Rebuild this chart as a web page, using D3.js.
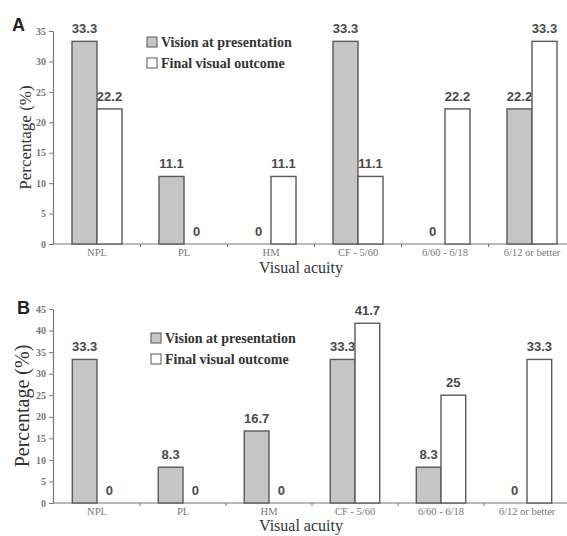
<!DOCTYPE html>
<html>
<head>
<meta charset="utf-8">
<script src="https://cdn.jsdelivr.net/npm/d3@7"></script>
<style>
body{margin:0;background:#fff}
</style>
</head>
<body>
<svg id="graph"></svg>
<script>
var categories = ["NPL","PL","HM","CF - 5/60","6/60 - 6/18","6/12 or better"]
var seriesNames = ["Vision at presentation","Final visual outcome"]

// panel A
var presentationA = [33.3,11.1,0,33.3,0,22.2]
var finalA = [22.2,0,11.1,11.1,22.2,33.3]
var yTicksA = [0,5,10,15,20,25,30,35]

// panel B
var presentationB = [33.3,8.3,16.7,33.3,8.3,0]
var finalB = [0,0,0,41.7,25,33.3]
var yTicksB = [0,5,10,15,20,25,30,35,40,45]

var fills = ["#c6c6c6","#ffffff"]
var serif = "'Liberation Serif','Times New Roman',serif"
var sans = "'Liberation Sans',Arial,sans-serif"

function drawPanel(svg, p){
    var g = svg.append("g")

    var pi = 37/87
    var x = d3.scaleBand().domain(categories).range([p.left,p.right])
        .paddingInner(pi).paddingOuter(pi/2)
    var xs = d3.scaleBand().domain([0,1]).range([0,x.bandwidth()])
    var y = d3.scaleLinear().domain([0,p.yMax]).range([p.bottom,p.top])

    // y axis
    var yAxis = g.append("g")
        .attr("transform","translate("+p.axisX+",0)")
        .call(d3.axisLeft(y).tickValues(p.ticks).tickSize(4).tickSizeOuter(0).tickPadding(3))
    yAxis.select(".domain").attr("stroke","#777").attr("stroke-width",1.2)
    yAxis.selectAll(".tick line").attr("stroke","#777")
    yAxis.selectAll("text")
        .attr("font-family",serif).attr("font-size","10px").attr("font-weight","bold")
        .attr("fill","#777")

    // x axis
    var xAxis = g.append("g")
        .attr("transform","translate(0,"+p.bottom+")")
        .call(d3.axisBottom(x).tickSize(0).tickSizeOuter(0).tickPadding(5))
    xAxis.select(".domain").attr("d","M"+p.axisX+",0H"+567).attr("stroke","#777").attr("stroke-width",1.2)
    xAxis.selectAll("text")
        .attr("font-family",serif).attr("font-size","10.5px").attr("fill","#777")

    // category separator ticks
    g.selectAll(".sep").data(categories.slice(1)).enter().append("line")
        .attr("x1",(d)=>{return x(d)-x.step()*pi/2})
        .attr("x2",(d)=>{return x(d)-x.step()*pi/2})
        .attr("y1",p.bottom).attr("y2",p.bottom+3)
        .attr("stroke","#777")

    var series = [p.s0,p.s1]
    series.forEach(function(vals,k){
        g.selectAll(".bar"+k).data(vals).enter().append("rect")
            .attr("x",(d,i)=>{return x(categories[i])+xs(k)})
            .attr("width",xs.bandwidth())
            .attr("y",(d)=>{return y(d)})
            .attr("height",(d)=>{return y(0)-y(d)})
            .attr("fill",fills[k])
            .attr("stroke","#5a5a5a")
            .attr("stroke-width",1.4)
            .attr("display",(d)=>{return d==0 ? "none" : null})

        g.selectAll(".lab"+k).data(vals).enter().append("text")
            .attr("x",(d,i)=>{return x(categories[i])+xs(k)+xs.bandwidth()/2})
            .attr("y",(d)=>{return y(d)-8})
            .attr("text-anchor","middle")
            .attr("font-family",sans).attr("font-weight","bold").attr("font-size","13px")
            .attr("fill","#4a4a4a")
            .text((d)=>{return d})
    })

    // legend
    seriesNames.forEach(function(name,k){
        g.append("rect")
            .attr("x",p.legX).attr("y",p.legY+k*p.legGap-10)
            .attr("width",10).attr("height",10)
            .attr("fill",fills[k]).attr("stroke","#555").attr("stroke-width",1)
        g.append("text")
            .attr("x",p.legX+14).attr("y",p.legY+k*p.legGap)
            .attr("font-family",serif).attr("font-weight","bold").attr("font-size","14px")
            .attr("fill","#333")
            .text(name)
    })

    // panel letter
    g.append("text").attr("x",p.letterX).attr("y",p.letterY)
        .attr("font-family","'Liberation Sans Narrow',"+sans).attr("font-weight","bold")
        .attr("font-size","18px").attr("fill","#222").text(p.letter)

    // axis titles
    g.append("text")
        .attr("transform","translate("+p.yTitleX+","+((p.top+p.bottom)/2)+") rotate(-90)")
        .attr("text-anchor","middle")
        .attr("font-family",serif).attr("font-size",p.yTitleSize).attr("fill","#333")
        .text("Percentage (%)")
    g.append("text")
        .attr("x",301).attr("y",p.xTitleY)
        .attr("text-anchor","middle")
        .attr("font-family",serif).attr("font-size","16px").attr("fill","#333")
        .text("Visual acuity")
}

window.onload = function(){
    var svg = d3.select("#graph").attr("width",567).attr("height",536)

    drawPanel(svg,{letter:"A",letterX:12,letterY:31,
        s0:presentationA,s1:finalA,ticks:yTicksA,yMax:35,
        top:31,bottom:244,left:53.5,right:575.5,axisX:53,
        legX:147,legY:47,legGap:21,
        yTitleX:31,yTitleSize:"17px",xTitleY:273})

    drawPanel(svg,{letter:"B",letterX:17,letterY:314,
        s0:presentationB,s1:finalB,ticks:yTicksB,yMax:45,
        top:309,bottom:503,left:54,right:570,axisX:53,
        legX:151,legY:343,legGap:21,
        yTitleX:29,yTitleSize:"20px",xTitleY:531})
}
</script>
</body>
</html>
